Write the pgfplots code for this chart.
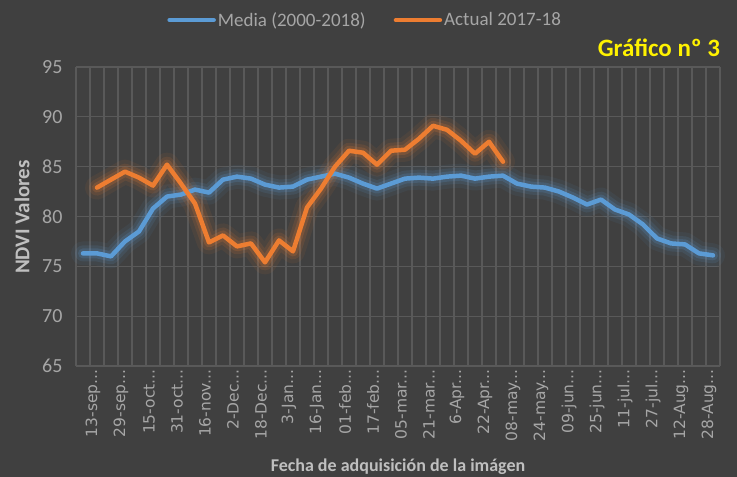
\documentclass[border=0pt]{standalone}
\usepackage{pgfplots}
\pgfplotsset{compat=1.18}
\usepackage{fontspec}
\setmainfont{Carlito}
\newfontfamily\dejavu{DejaVu Sans}
\definecolor{bgdark}{HTML}{404040}
\definecolor{gridgray}{HTML}{595959}
\definecolor{txtgray}{HTML}{A6A6A6}
\definecolor{lblgray}{HTML}{BFBFBF}
\definecolor{xlblue}{HTML}{5B9BD5}
\definecolor{xlorange}{HTML}{ED7D31}
\newcommand\el{...}

% NDVI media 2000-2018, one value every 8 days from 13-sep
\pgfplotstableread{
i v
0 76.3
1 76.3
2 76.0
3 77.5
4 78.5
5 80.8
6 82.0
7 82.2
8 82.7
9 82.4
10 83.7
11 84.0
12 83.8
13 83.2
14 82.9
15 83.0
16 83.7
17 84.0
18 84.3
19 83.9
20 83.3
21 82.8
22 83.3
23 83.8
24 83.9
25 83.8
26 84.0
27 84.1
28 83.8
29 84.0
30 84.1
31 83.3
32 83.0
33 82.9
34 82.5
35 81.9
36 81.2
37 81.7
38 80.7
39 80.2
40 79.2
41 77.8
42 77.3
43 77.2
44 76.3
45 76.1
}\media

% campaign 2017-18
\pgfplotstableread{
i v
1 82.9
2 83.7
3 84.5
4 83.9
5 83.1
6 85.2
7 83.3
8 81.3
9 77.4
10 78.1
11 77.0
12 77.3
13 75.4
14 77.6
15 76.5
16 80.9
17 82.8
18 85.0
19 86.6
20 86.4
21 85.2
22 86.6
23 86.7
24 87.8
25 89.1
26 88.7
27 87.6
28 86.3
29 87.5
30 85.5
}\actual

\begin{document}
\begin{tikzpicture}
\fill[bgdark] (0,0) rectangle (737bp,477bp);
\path[use as bounding box] (0,0) rectangle (737bp,477bp);
\begin{axis}[
  at={(76bp,111bp)}, anchor=south west,
  scale only axis,
  width=644bp, height=299bp,
  xmin=-0.5, xmax=45.5,
  ymin=65, ymax=95,
  ytick={65,70,...,95},
  xtick={0,2,...,44},
  xticklabels={13-sep\el,29-sep\el,15-oct\el,31-oct\el,16-nov\el,2-Dec\el,18-Dec\el,3-Jan\el,16-Jan\el,01-feb\el,17-feb\el,05-mar\el,21-mar\el,6-Apr\el,22-Apr\el,08-may\el,24-may\el,09-jun\el,25-jun\el,11-jul\el,27-jul\el,12-Aug\el,28-Aug\el},
  minor xtick={-0.5,0.5,...,45.5},
  xminorgrids=true, ymajorgrids=true,
  grid style={draw=gridgray, line width=1.2bp},
  minor grid style={draw=gridgray, line width=1.2bp},
  axis line style={draw=none},
  major tick length=0pt, minor tick length=0pt,
  yticklabel style={font=\fontsize{20bp}{22bp}\selectfont, text=txtgray,
    /pgf/number format/assume math mode=true, xshift=-10bp},
  xticklabel style={font=\dejavu\fontsize{15.5bp}{17bp}\selectfont, text=txtgray,
    rotate=90, anchor=east, yshift=-10bp},
  xlabel={\textbf{Fecha de adquisición de la imágen}},
  xlabel style={font=\fontsize{18bp}{20bp}\selectfont, text=lblgray,
    at={(rel axis cs:0.5,0)}, anchor=center, yshift=-101bp},
  legend columns=2,
  legend style={at={(0.449,1.157)}, anchor=center, draw=none, fill=none,
    font=\fontsize{19bp}{21bp}\selectfont, text=txtgray,
    /tikz/every even column/.append style={column sep=26bp}},
  legend image code/.code={\draw[#1, line width=4.5bp, line cap=round] (0bp,0bp) -- (44bp,0bp);},
  clip=false,
]
\addplot[xlblue, line width=24bp, opacity=0.07, line join=round, line cap=round, forget plot] table[x=i,y=v] {\media};
\addplot[xlblue, line width=16bp, opacity=0.12, line join=round, line cap=round, forget plot] table[x=i,y=v] {\media};
\addplot[xlblue, line width=10bp, opacity=0.18, line join=round, line cap=round, forget plot] table[x=i,y=v] {\media};
\addplot[xlorange, line width=24bp, opacity=0.07, line join=round, line cap=round, forget plot] table[x=i,y=v] {\actual};
\addplot[xlorange, line width=16bp, opacity=0.12, line join=round, line cap=round, forget plot] table[x=i,y=v] {\actual};
\addplot[xlorange, line width=10bp, opacity=0.18, line join=round, line cap=round, forget plot] table[x=i,y=v] {\actual};
\addplot[xlblue, line width=4.5bp, line join=round, line cap=round] table[x=i,y=v] {\media};
\addplot[xlorange, line width=4.5bp, line join=round, line cap=round] table[x=i,y=v] {\actual};
\legend{Media (2000-2018), Actual 2017-18}
\end{axis}
\node[text=lblgray, font=\fontsize{21bp}{23bp}\selectfont\bfseries, rotate=90] at (22bp,260bp) {NDVI Valores};
\node[text=yellow, font=\fontsize{25bp}{27bp}\selectfont\bfseries] at (659bp,429bp) {Gráfico nº 3};
\end{tikzpicture}
\end{document}
